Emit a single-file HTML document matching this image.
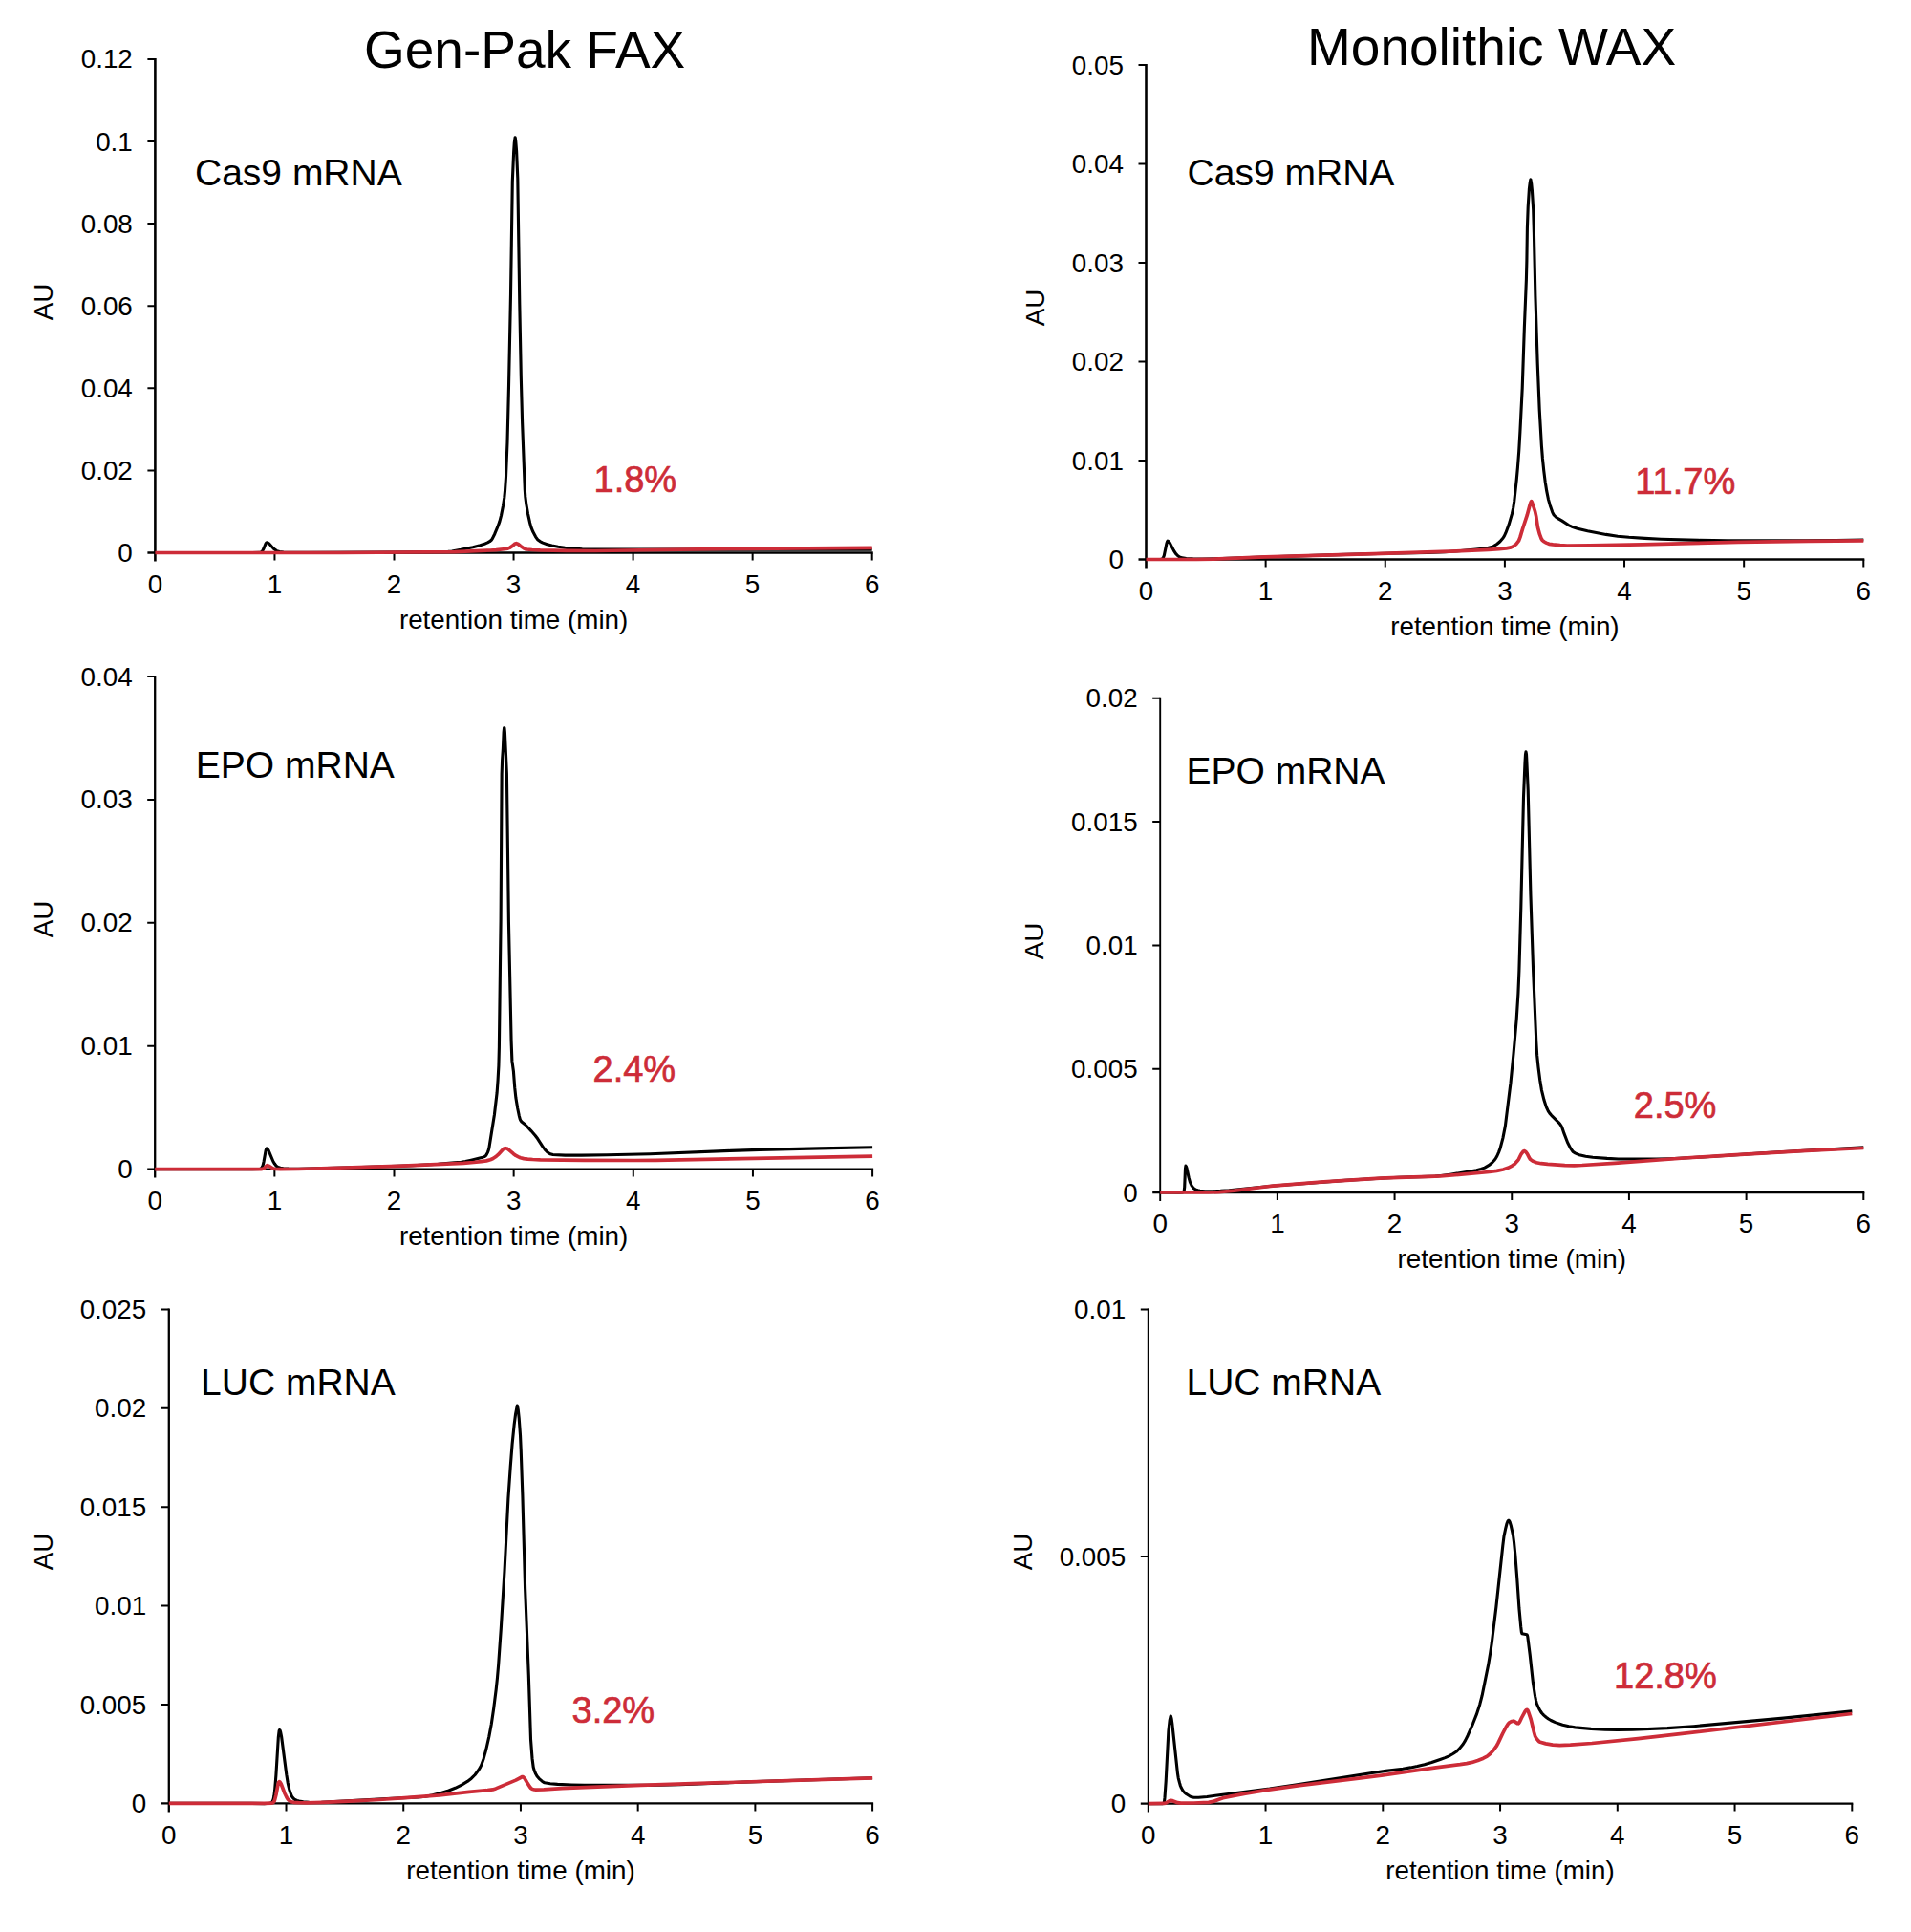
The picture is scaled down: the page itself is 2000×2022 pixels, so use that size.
<!DOCTYPE html>
<html><head><meta charset="utf-8"><title>mRNA AEX chromatograms</title>
<style>
html,body{margin:0;padding:0;background:#fff;}
body{width:2000px;height:2022px;position:relative;overflow:hidden;font-family:"Liberation Sans",sans-serif;}
svg{position:absolute;left:0;top:0;}
.t{position:absolute;white-space:nowrap;line-height:1;color:#000;}
.au{width:100px;text-align:center;transform:rotate(-90deg);transform-origin:50% 50%;}
</style></head><body>
<svg width="2000" height="2022" viewBox="0 0 2000 2022">
<path d="M162.40,60.90 V587.50" stroke="#000" stroke-width="2.6" fill="none"/>
<path d="M154.40,578.50 H913.70" stroke="#000" stroke-width="2.4" fill="none"/>
<path d="M154.40,492.40 H162.40 M154.40,406.30 H162.40 M154.40,320.20 H162.40 M154.40,234.10 H162.40 M154.40,148.00 H162.40 M154.40,61.90 H162.40 M287.45,578.50 V586.50 M412.50,578.50 V586.50 M537.55,578.50 V586.50 M662.60,578.50 V586.50 M787.65,578.50 V586.50 M912.70,578.50 V586.50" stroke="#000" stroke-width="2.0" fill="none"/>
<path d="M162.4,578.5 264.1,578.5 271.4,578.4 273.3,577.9 274.7,576.6 275.9,574.3 278.0,569.1 278.5,568.2 279.2,567.7 280.2,568.0 281.5,568.8 286.4,574.2 289.2,576.3 290.8,577.1 292.5,577.6 296.8,578.1 322.5,578.3 395.0,578.1 447.3,577.8 469.0,577.4 473.0,577.0 482.3,575.3 494.8,572.7 502.5,570.7 506.3,569.6 510.3,567.9 512.5,566.7 514.5,565.0 515.5,563.4 517.8,558.7 520.5,552.2 522.8,546.1 524.5,539.6 526.5,529.5 527.8,521.0 528.5,513.8 529.5,499.0 531.0,463.3 532.5,404.1 534.5,308.3 536.3,190.1 537.6,159.7 538.3,149.2 539.1,143.7 539.3,144.3 539.8,148.1 540.6,158.0 541.8,186.5 543.8,318.3 545.3,394.3 546.6,441.9 549.3,512.7 549.8,519.7 550.8,527.8 552.6,538.1 554.6,547.2 555.8,551.6 557.8,556.6 560.6,561.8 562.6,564.7 565.1,566.6 568.1,568.1 572.6,569.7 577.6,571.0 584.1,572.2 591.3,573.2 599.8,574.1 609.3,574.7 658.8,575.1 912.7,575.1" stroke="#000000" stroke-width="3.1" fill="none" stroke-linejoin="round" stroke-linecap="butt"/>
<path d="M162.4,578.5 356.7,578.5 475.8,577.6 513.0,576.0 519.3,575.6 529.3,574.5 531.5,574.1 533.3,573.4 536.3,571.4 538.6,569.3 540.3,568.6 542.3,569.5 544.8,571.5 548.1,573.8 549.8,574.6 551.3,575.0 556.8,575.5 565.3,575.9 592.6,576.4 622.8,576.5 776.1,574.3 912.7,573.3" stroke="#cd2c38" stroke-width="3.7" fill="none" stroke-linejoin="round" stroke-linecap="butt"/>
<path d="M1199.50,67.00 V594.50" stroke="#000" stroke-width="2.6" fill="none"/>
<path d="M1191.50,585.50 H1951.30" stroke="#000" stroke-width="2.4" fill="none"/>
<path d="M1191.50,482.00 H1199.50 M1191.50,378.50 H1199.50 M1191.50,275.00 H1199.50 M1191.50,171.50 H1199.50 M1191.50,68.00 H1199.50 M1324.63,585.50 V593.50 M1449.77,585.50 V593.50 M1574.90,585.50 V593.50 M1700.03,585.50 V593.50 M1825.17,585.50 V593.50 M1950.30,585.50 V593.50" stroke="#000" stroke-width="2.0" fill="none"/>
<path d="M1199.5,585.5 1214.3,585.5 1215.6,585.3 1216.5,584.9 1217.4,583.7 1218.3,581.5 1220.9,568.9 1221.5,566.9 1222.0,566.2 1223.1,566.7 1224.3,568.2 1228.4,576.1 1230.5,579.4 1232.5,581.5 1234.5,582.9 1237.4,583.9 1241.5,584.5 1248.4,584.9 1258.7,585.0 1278.8,584.6 1321.9,583.0 1400.2,580.6 1450.5,579.3 1493.3,578.4 1512.6,577.7 1526.1,576.7 1544.6,575.1 1551.4,574.4 1556.9,573.5 1560.9,572.6 1563.6,571.4 1566.6,569.5 1569.9,566.7 1573.1,563.0 1574.4,560.9 1575.9,557.7 1579.2,548.9 1582.4,537.9 1583.7,531.8 1584.7,525.0 1587.2,502.5 1588.4,489.4 1589.7,472.5 1590.9,451.9 1593.2,406.4 1595.4,341.7 1597.4,292.8 1597.9,272.9 1598.4,239.0 1599.2,216.6 1600.4,197.8 1601.2,191.3 1601.7,188.4 1601.9,187.9 1602.7,192.2 1603.4,199.1 1604.7,219.6 1605.4,243.6 1606.9,309.8 1609.2,380.4 1611.2,428.9 1613.4,466.8 1614.4,479.7 1615.7,492.3 1617.2,504.4 1618.7,513.9 1620.4,522.3 1622.2,528.7 1624.7,536.1 1625.7,538.2 1626.7,539.5 1628.2,541.0 1629.7,542.1 1634.5,544.9 1642.0,549.8 1645.0,551.2 1651.0,553.2 1661.5,555.8 1680.8,559.4 1693.0,561.2 1704.8,562.3 1721.3,563.4 1738.3,564.2 1777.9,565.4 1808.1,565.9 1889.7,565.9 1921.5,565.6 1950.3,565.0" stroke="#000000" stroke-width="3.1" fill="none" stroke-linejoin="round" stroke-linecap="butt"/>
<path d="M1199.5,585.5 1252.1,585.5 1269.8,585.2 1323.9,582.9 1437.8,579.7 1516.8,577.2 1557.9,575.4 1568.9,574.7 1576.4,573.9 1581.4,572.9 1583.9,571.8 1586.7,569.6 1589.4,566.2 1590.9,562.4 1593.7,553.0 1598.2,539.4 1601.4,527.6 1602.2,525.5 1602.7,524.6 1603.2,525.5 1604.9,530.1 1606.7,535.8 1607.7,540.4 1609.4,551.7 1611.4,559.2 1613.2,563.9 1614.4,565.6 1616.2,567.0 1618.2,568.1 1621.2,569.3 1625.2,569.9 1632.7,570.6 1640.2,571.0 1664.0,570.9 1718.8,569.9 1819.2,567.3 1892.5,566.3 1950.3,565.8" stroke="#cd2c38" stroke-width="3.7" fill="none" stroke-linejoin="round" stroke-linecap="butt"/>
<path d="M162.20,707.10 V1232.60" stroke="#000" stroke-width="2.3" fill="none"/>
<path d="M154.20,1223.60 H914.10" stroke="#000" stroke-width="2.4" fill="none"/>
<path d="M154.20,1094.72 H162.20 M154.20,965.85 H162.20 M154.20,836.98 H162.20 M154.20,708.10 H162.20 M287.35,1223.60 V1231.60 M412.50,1223.60 V1231.60 M537.65,1223.60 V1231.60 M662.80,1223.60 V1231.60 M787.95,1223.60 V1231.60 M913.10,1223.60 V1231.60" stroke="#000" stroke-width="2.0" fill="none"/>
<path d="M162.2,1223.6 264.1,1223.6 272.1,1223.4 273.1,1223.0 273.8,1222.4 274.4,1221.4 275.1,1219.8 276.1,1215.6 278.1,1204.3 278.6,1202.6 279.1,1201.9 280.0,1202.4 280.9,1203.6 285.9,1215.5 287.5,1218.1 289.2,1220.2 291.0,1221.5 293.4,1222.3 296.6,1222.8 302.0,1223.1 312.9,1223.2 323.4,1223.1 378.5,1221.5 432.0,1219.7 458.6,1218.3 475.6,1216.9 482.6,1216.2 487.1,1215.5 493.1,1214.2 504.1,1211.6 506.9,1210.6 508.1,1209.9 508.6,1209.4 509.4,1208.2 510.4,1206.1 511.4,1203.4 511.9,1201.3 517.4,1166.7 520.1,1143.8 521.1,1130.2 521.9,1115.3 522.4,1095.9 524.1,962.5 525.1,809.9 525.6,795.6 526.4,783.5 527.1,766.5 527.6,761.7 527.9,761.7 528.1,763.3 528.4,766.5 530.4,809.9 532.4,964.2 535.1,1089.8 535.9,1110.4 537.4,1121.2 538.7,1138.2 539.9,1149.1 541.7,1160.0 543.2,1167.3 544.2,1171.2 544.7,1172.3 545.9,1174.0 549.7,1177.0 551.2,1178.5 555.9,1183.6 560.2,1188.5 562.7,1191.8 567.7,1199.7 570.2,1203.1 572.9,1205.8 574.7,1207.2 575.9,1207.8 578.7,1208.5 591.5,1209.1 608.5,1209.1 635.0,1208.8 680.1,1207.7 764.4,1204.4 795.0,1203.4 857.5,1201.9 913.1,1200.8" stroke="#000000" stroke-width="3.1" fill="none" stroke-linejoin="round" stroke-linecap="butt"/>
<path d="M162.2,1223.6 273.0,1223.6 274.6,1223.4 275.8,1222.9 276.8,1222.2 278.8,1220.2 279.8,1219.7 281.5,1220.2 285.4,1222.8 288.0,1223.5 293.3,1223.6 311.9,1223.5 416.0,1220.3 456.1,1218.6 485.1,1217.3 495.7,1216.5 503.6,1215.7 509.1,1214.9 513.2,1213.7 516.0,1212.5 518.6,1210.8 521.4,1208.4 526.4,1202.9 527.6,1202.1 529.0,1201.7 530.4,1202.0 531.9,1202.8 537.2,1207.4 539.9,1209.4 542.2,1210.6 544.7,1211.7 548.2,1212.6 552.2,1213.1 557.5,1213.5 565.4,1213.8 612.0,1214.3 664.1,1214.5 686.3,1214.3 913.1,1210.2" stroke="#cd2c38" stroke-width="3.7" fill="none" stroke-linejoin="round" stroke-linecap="butt"/>
<path d="M1214.20,729.80 V1257.00" stroke="#000" stroke-width="1.9" fill="none"/>
<path d="M1206.20,1248.00 H1951.30" stroke="#000" stroke-width="2.4" fill="none"/>
<path d="M1206.20,1118.70 H1214.20 M1206.20,989.40 H1214.20 M1206.20,860.10 H1214.20 M1206.20,730.80 H1214.20 M1336.88,1248.00 V1256.00 M1459.57,1248.00 V1256.00 M1582.25,1248.00 V1256.00 M1704.93,1248.00 V1256.00 M1827.62,1248.00 V1256.00 M1950.30,1248.00 V1256.00" stroke="#000" stroke-width="2.0" fill="none"/>
<path d="M1214.2,1248.0 1234.1,1248.2 1237.4,1248.0 1238.7,1247.6 1239.2,1246.4 1239.7,1242.6 1240.5,1222.9 1240.9,1220.1 1241.3,1220.6 1241.9,1222.2 1244.1,1232.4 1245.4,1237.2 1247.1,1240.9 1249.0,1243.4 1250.3,1244.3 1251.8,1245.1 1253.6,1245.7 1255.7,1246.2 1261.2,1246.7 1269.7,1246.7 1277.3,1246.4 1286.3,1245.8 1333.7,1241.0 1407.8,1235.4 1448.0,1233.0 1464.0,1232.3 1494.9,1231.4 1502.0,1231.1 1508.1,1230.5 1517.7,1229.2 1539.6,1225.8 1545.2,1224.7 1549.9,1223.5 1553.8,1222.1 1558.0,1219.7 1561.1,1217.3 1563.8,1214.5 1565.3,1212.6 1566.8,1210.0 1568.5,1206.1 1570.0,1202.1 1572.9,1191.1 1575.4,1178.4 1581.0,1133.2 1584.0,1102.8 1587.2,1066.6 1588.9,1039.8 1589.9,1016.0 1591.8,949.6 1594.5,834.2 1596.0,797.9 1596.5,789.6 1597.0,786.7 1597.5,789.6 1597.7,793.2 1599.2,826.8 1601.9,936.0 1604.6,1015.7 1607.8,1090.2 1608.7,1104.7 1610.0,1117.0 1611.7,1130.3 1613.4,1140.8 1615.9,1151.1 1618.3,1158.5 1620.3,1162.8 1622.0,1165.4 1623.7,1167.3 1631.3,1174.8 1632.8,1176.6 1634.0,1178.4 1634.8,1180.0 1637.0,1186.4 1640.6,1195.8 1643.6,1201.6 1645.6,1204.6 1646.5,1205.6 1648.5,1206.8 1650.7,1207.9 1652.9,1208.7 1659.5,1210.2 1666.9,1211.2 1681.9,1212.4 1693.6,1213.0 1733.4,1213.1 1747.6,1212.7 1776.3,1211.3 1844.5,1206.9 1950.3,1200.9" stroke="#000000" stroke-width="3.1" fill="none" stroke-linejoin="round" stroke-linecap="butt"/>
<path d="M1214.2,1248.0 1264.5,1248.0 1275.8,1247.6 1291.7,1246.1 1320.7,1242.5 1332.0,1241.2 1385.5,1236.9 1416.6,1234.8 1444.1,1233.2 1463.7,1232.3 1495.6,1231.4 1507.7,1230.8 1526.6,1229.4 1558.7,1226.5 1566.5,1225.4 1573.2,1224.0 1578.1,1222.3 1582.5,1220.1 1585.2,1218.2 1587.6,1215.6 1589.4,1213.3 1592.1,1207.8 1594.0,1205.3 1594.8,1204.7 1595.3,1204.6 1595.7,1204.7 1596.5,1205.2 1598.4,1207.7 1600.7,1212.1 1601.4,1213.2 1604.6,1215.4 1608.0,1216.8 1612.9,1217.7 1619.8,1218.4 1637.7,1219.6 1647.5,1219.8 1655.9,1219.5 1689.7,1217.4 1762.8,1212.0 1812.9,1208.8 1886.0,1204.7 1950.3,1201.5" stroke="#cd2c38" stroke-width="3.7" fill="none" stroke-linejoin="round" stroke-linecap="butt"/>
<path d="M176.80,1369.40 V1896.40" stroke="#000" stroke-width="2.3" fill="none"/>
<path d="M168.80,1887.40 H914.10" stroke="#000" stroke-width="2.4" fill="none"/>
<path d="M168.80,1784.00 H176.80 M168.80,1680.60 H176.80 M168.80,1577.20 H176.80 M168.80,1473.80 H176.80 M168.80,1370.40 H176.80 M299.52,1887.40 V1895.40 M422.23,1887.40 V1895.40 M544.95,1887.40 V1895.40 M667.67,1887.40 V1895.40 M790.38,1887.40 V1895.40 M913.10,1887.40 V1895.40" stroke="#000" stroke-width="2.0" fill="none"/>
<path d="M176.8,1887.4 263.3,1887.4 276.6,1887.6 281.8,1887.3 283.2,1887.1 284.1,1886.6 285.3,1885.3 286.2,1882.9 286.9,1879.4 287.6,1873.8 288.9,1857.8 291.3,1818.5 292.1,1811.7 292.4,1810.6 292.6,1810.5 293.1,1811.1 293.6,1812.5 294.6,1817.5 299.8,1857.2 301.2,1866.1 302.8,1872.9 304.6,1878.3 305.5,1880.1 306.6,1881.6 307.9,1882.9 309.2,1883.8 310.9,1884.5 313.0,1885.1 317.5,1885.8 323.6,1886.3 329.5,1886.5 336.3,1886.4 404.8,1882.5 437.0,1881.0 445.3,1880.2 452.7,1878.8 461.5,1876.5 469.6,1874.0 476.5,1871.3 483.1,1868.1 489.2,1864.4 493.4,1861.2 497.1,1857.5 501.0,1852.3 502.7,1849.4 503.7,1847.4 506.2,1840.4 508.9,1830.5 511.8,1817.6 514.3,1804.2 516.7,1787.9 519.2,1768.2 520.4,1756.9 521.6,1743.1 524.3,1704.7 528.0,1644.3 531.9,1568.5 534.2,1535.3 536.1,1511.2 538.1,1491.3 539.6,1479.8 541.3,1471.1 541.5,1471.4 542.3,1475.6 543.2,1484.1 544.5,1501.8 545.2,1517.1 546.9,1565.4 549.6,1662.4 553.3,1753.3 555.5,1820.3 557.0,1840.2 558.2,1849.5 559.4,1853.6 560.7,1856.5 562.1,1859.0 564.3,1861.6 567.3,1864.2 568.8,1865.2 570.0,1865.7 575.9,1866.7 583.5,1867.4 598.2,1868.0 611.7,1868.3 670.1,1868.4 689.8,1868.2 711.6,1867.6 783.5,1864.9 913.1,1860.7" stroke="#000000" stroke-width="3.1" fill="none" stroke-linejoin="round" stroke-linecap="butt"/>
<path d="M176.8,1887.4 276.6,1887.4 284.4,1887.2 285.6,1886.8 286.4,1886.1 287.1,1885.0 287.7,1883.4 288.9,1878.6 291.1,1867.0 291.7,1865.2 292.2,1864.7 293.1,1865.2 294.2,1867.0 298.0,1877.0 299.8,1880.7 301.2,1883.1 302.9,1884.7 304.9,1885.8 307.7,1886.4 312.3,1886.7 320.6,1886.8 337.8,1886.3 370.0,1884.9 396.5,1883.5 423.7,1881.7 460.0,1878.8 491.0,1875.3 510.3,1873.7 515.7,1872.9 518.9,1871.9 539.8,1863.1 546.7,1859.5 547.6,1859.8 548.9,1861.0 551.6,1865.5 554.5,1870.0 555.7,1871.5 556.5,1872.1 557.5,1872.5 559.2,1873.0 560.7,1873.1 569.2,1872.9 588.4,1871.6 606.1,1870.8 670.4,1868.3 913.1,1860.9" stroke="#cd2c38" stroke-width="3.7" fill="none" stroke-linejoin="round" stroke-linecap="butt"/>
<path d="M1201.80,1369.40 V1896.60" stroke="#000" stroke-width="2.0" fill="none"/>
<path d="M1193.80,1887.60 H1939.30" stroke="#000" stroke-width="2.4" fill="none"/>
<path d="M1193.80,1629.00 H1201.80 M1193.80,1370.40 H1201.80 M1324.55,1887.60 V1895.60 M1447.30,1887.60 V1895.60 M1570.05,1887.60 V1895.60 M1692.80,1887.60 V1895.60 M1815.55,1887.60 V1895.60 M1938.30,1887.60 V1895.60" stroke="#000" stroke-width="2.0" fill="none"/>
<path d="M1201.8,1887.6 1216.8,1887.6 1217.5,1887.2 1218.2,1886.6 1218.5,1885.7 1219.0,1881.2 1220.2,1864.0 1222.9,1811.6 1224.1,1800.6 1224.9,1797.0 1225.1,1796.3 1225.4,1796.1 1226.1,1798.6 1226.8,1803.7 1232.5,1856.3 1233.2,1860.8 1234.5,1865.9 1235.4,1869.0 1236.4,1871.3 1238.1,1874.2 1239.9,1876.3 1241.8,1877.8 1245.0,1879.8 1247.2,1880.8 1249.4,1881.3 1254.3,1881.3 1263.2,1880.5 1275.9,1878.7 1328.7,1872.1 1359.2,1867.6 1434.3,1855.7 1450.5,1853.4 1468.2,1851.2 1476.3,1849.9 1483.4,1848.5 1490.8,1846.7 1498.4,1844.5 1507.2,1841.5 1512.4,1839.6 1516.5,1837.8 1520.7,1835.5 1524.1,1833.3 1527.6,1829.9 1531.3,1825.2 1533.5,1821.6 1536.2,1816.2 1541.6,1803.8 1545.3,1794.4 1548.7,1783.9 1551.1,1774.7 1557.8,1741.6 1559.7,1730.1 1561.2,1720.1 1565.9,1681.7 1572.8,1617.7 1574.0,1607.9 1575.5,1600.7 1576.9,1594.8 1577.9,1592.2 1578.4,1591.5 1578.9,1591.2 1579.4,1591.5 1580.1,1592.7 1581.3,1596.6 1583.6,1607.1 1584.5,1613.9 1585.8,1626.8 1587.7,1651.2 1589.9,1683.0 1591.7,1702.5 1592.4,1708.3 1592.9,1709.7 1598.0,1710.7 1598.3,1711.1 1598.8,1712.9 1601.2,1731.7 1604.4,1761.1 1606.6,1775.2 1607.6,1780.1 1608.3,1782.8 1610.8,1788.5 1612.3,1791.0 1613.7,1793.0 1615.7,1795.1 1618.2,1797.2 1620.6,1799.0 1623.1,1800.5 1627.7,1802.6 1635.4,1805.2 1642.0,1806.8 1648.4,1807.9 1665.1,1809.4 1679.8,1810.3 1692.6,1810.5 1708.3,1810.3 1745.1,1808.6 1772.3,1806.7 1866.6,1798.1 1938.3,1790.9" stroke="#000000" stroke-width="3.1" fill="none" stroke-linejoin="round" stroke-linecap="butt"/>
<path d="M1201.8,1887.6 1218.6,1887.4 1220.6,1886.8 1223.8,1884.8 1225.1,1884.4 1227.2,1884.7 1232.5,1886.7 1235.9,1887.2 1249.4,1887.0 1264.9,1886.4 1269.6,1885.4 1279.9,1881.8 1286.3,1880.4 1303.4,1877.1 1326.0,1873.4 1360.1,1868.7 1422.0,1861.2 1445.8,1858.1 1502.8,1849.8 1528.1,1846.7 1534.9,1845.6 1540.6,1844.4 1546.7,1842.5 1552.4,1840.2 1556.3,1838.1 1559.5,1835.5 1563.2,1831.5 1566.4,1827.2 1568.1,1823.9 1572.8,1814.0 1576.7,1806.7 1578.6,1803.8 1579.6,1802.9 1581.1,1802.0 1582.3,1801.5 1583.6,1801.2 1585.0,1801.6 1588.0,1803.6 1589.0,1803.8 1589.4,1803.6 1590.4,1802.2 1592.4,1798.0 1596.1,1791.1 1597.1,1789.8 1598.0,1789.3 1598.8,1789.9 1599.5,1791.3 1602.2,1799.4 1605.4,1812.8 1606.6,1817.0 1607.6,1818.9 1609.6,1821.4 1610.8,1822.6 1612.0,1823.3 1617.7,1824.9 1625.0,1826.1 1632.4,1826.6 1643.5,1826.2 1666.0,1824.5 1714.4,1819.7 1758.3,1814.7 1938.3,1793.5" stroke="#cd2c38" stroke-width="3.7" fill="none" stroke-linejoin="round" stroke-linecap="butt"/>
</svg>
<div class="t" style="left:381.0px;top:24.7px;font-size:55px;color:#000;">Gen-Pak FAX</div>
<div class="t" style="left:1368.0px;top:22.3px;font-size:55px;color:#000;">Monolithic WAX</div>
<div class="t" style="right:1861.2px;top:565.0px;font-size:27.8px;color:#000;">0</div>
<div class="t" style="right:1861.2px;top:478.9px;font-size:27.8px;color:#000;">0.02</div>
<div class="t" style="right:1861.2px;top:392.8px;font-size:27.8px;color:#000;">0.04</div>
<div class="t" style="right:1861.2px;top:306.7px;font-size:27.8px;color:#000;">0.06</div>
<div class="t" style="right:1861.2px;top:220.6px;font-size:27.8px;color:#000;">0.08</div>
<div class="t" style="right:1861.2px;top:134.5px;font-size:27.8px;color:#000;">0.1</div>
<div class="t" style="right:1861.2px;top:48.4px;font-size:27.8px;color:#000;">0.12</div>
<div class="t" style="left:-237.6px;width:800px;text-align:center;top:597.8px;font-size:27.8px;color:#000;">0</div>
<div class="t" style="left:-112.5px;width:800px;text-align:center;top:597.8px;font-size:27.8px;color:#000;">1</div>
<div class="t" style="left:12.5px;width:800px;text-align:center;top:597.8px;font-size:27.8px;color:#000;">2</div>
<div class="t" style="left:137.6px;width:800px;text-align:center;top:597.8px;font-size:27.8px;color:#000;">3</div>
<div class="t" style="left:262.6px;width:800px;text-align:center;top:597.8px;font-size:27.8px;color:#000;">4</div>
<div class="t" style="left:387.6px;width:800px;text-align:center;top:597.8px;font-size:27.8px;color:#000;">5</div>
<div class="t" style="left:512.7px;width:800px;text-align:center;top:597.8px;font-size:27.8px;color:#000;">6</div>
<div class="t" style="left:137.6px;width:800px;text-align:center;top:634.8px;font-size:27.8px;color:#000;">retention time (min)</div>
<div class="t au" style="left:-3.7px;top:301.6px;font-size:27.8px;">AU</div>
<div class="t" style="left:204.0px;top:160.8px;font-size:39px;color:#000;">Cas9 mRNA</div>
<div class="t" style="left:621.5px;top:482.9px;font-size:38px;color:#cd2c38;-webkit-text-stroke:0.7px #cd2c38;">1.8%</div>
<div class="t" style="right:824.1px;top:572.0px;font-size:27.8px;color:#000;">0</div>
<div class="t" style="right:824.1px;top:468.5px;font-size:27.8px;color:#000;">0.01</div>
<div class="t" style="right:824.1px;top:365.0px;font-size:27.8px;color:#000;">0.02</div>
<div class="t" style="right:824.1px;top:261.5px;font-size:27.8px;color:#000;">0.03</div>
<div class="t" style="right:824.1px;top:158.0px;font-size:27.8px;color:#000;">0.04</div>
<div class="t" style="right:824.1px;top:54.5px;font-size:27.8px;color:#000;">0.05</div>
<div class="t" style="left:799.5px;width:800px;text-align:center;top:604.8px;font-size:27.8px;color:#000;">0</div>
<div class="t" style="left:924.6px;width:800px;text-align:center;top:604.8px;font-size:27.8px;color:#000;">1</div>
<div class="t" style="left:1049.8px;width:800px;text-align:center;top:604.8px;font-size:27.8px;color:#000;">2</div>
<div class="t" style="left:1174.9px;width:800px;text-align:center;top:604.8px;font-size:27.8px;color:#000;">3</div>
<div class="t" style="left:1300.0px;width:800px;text-align:center;top:604.8px;font-size:27.8px;color:#000;">4</div>
<div class="t" style="left:1425.2px;width:800px;text-align:center;top:604.8px;font-size:27.8px;color:#000;">5</div>
<div class="t" style="left:1550.3px;width:800px;text-align:center;top:604.8px;font-size:27.8px;color:#000;">6</div>
<div class="t" style="left:1174.9px;width:800px;text-align:center;top:641.8px;font-size:27.8px;color:#000;">retention time (min)</div>
<div class="t au" style="left:1033.9px;top:307.6px;font-size:27.8px;">AU</div>
<div class="t" style="left:1242.6px;top:161.1px;font-size:39px;color:#000;">Cas9 mRNA</div>
<div class="t" style="left:1711.3px;top:485.2px;font-size:38px;color:#cd2c38;-webkit-text-stroke:0.7px #cd2c38;">11.7%</div>
<div class="t" style="right:1861.4px;top:1210.1px;font-size:27.8px;color:#000;">0</div>
<div class="t" style="right:1861.4px;top:1081.2px;font-size:27.8px;color:#000;">0.01</div>
<div class="t" style="right:1861.4px;top:952.3px;font-size:27.8px;color:#000;">0.02</div>
<div class="t" style="right:1861.4px;top:823.4px;font-size:27.8px;color:#000;">0.03</div>
<div class="t" style="right:1861.4px;top:694.6px;font-size:27.8px;color:#000;">0.04</div>
<div class="t" style="left:-237.8px;width:800px;text-align:center;top:1242.9px;font-size:27.8px;color:#000;">0</div>
<div class="t" style="left:-112.6px;width:800px;text-align:center;top:1242.9px;font-size:27.8px;color:#000;">1</div>
<div class="t" style="left:12.5px;width:800px;text-align:center;top:1242.9px;font-size:27.8px;color:#000;">2</div>
<div class="t" style="left:137.7px;width:800px;text-align:center;top:1242.9px;font-size:27.8px;color:#000;">3</div>
<div class="t" style="left:262.8px;width:800px;text-align:center;top:1242.9px;font-size:27.8px;color:#000;">4</div>
<div class="t" style="left:388.0px;width:800px;text-align:center;top:1242.9px;font-size:27.8px;color:#000;">5</div>
<div class="t" style="left:513.1px;width:800px;text-align:center;top:1242.9px;font-size:27.8px;color:#000;">6</div>
<div class="t" style="left:137.6px;width:800px;text-align:center;top:1279.9px;font-size:27.8px;color:#000;">retention time (min)</div>
<div class="t au" style="left:-3.7px;top:948.1px;font-size:27.8px;">AU</div>
<div class="t" style="left:204.8px;top:780.6px;font-size:39px;color:#000;">EPO mRNA</div>
<div class="t" style="left:620.5px;top:1100.0px;font-size:38px;color:#cd2c38;-webkit-text-stroke:0.7px #cd2c38;">2.4%</div>
<div class="t" style="right:809.4px;top:1234.5px;font-size:27.8px;color:#000;">0</div>
<div class="t" style="right:809.4px;top:1105.2px;font-size:27.8px;color:#000;">0.005</div>
<div class="t" style="right:809.4px;top:975.9px;font-size:27.8px;color:#000;">0.01</div>
<div class="t" style="right:809.4px;top:846.6px;font-size:27.8px;color:#000;">0.015</div>
<div class="t" style="right:809.4px;top:717.3px;font-size:27.8px;color:#000;">0.02</div>
<div class="t" style="left:814.2px;width:800px;text-align:center;top:1267.3px;font-size:27.8px;color:#000;">0</div>
<div class="t" style="left:936.9px;width:800px;text-align:center;top:1267.3px;font-size:27.8px;color:#000;">1</div>
<div class="t" style="left:1059.6px;width:800px;text-align:center;top:1267.3px;font-size:27.8px;color:#000;">2</div>
<div class="t" style="left:1182.2px;width:800px;text-align:center;top:1267.3px;font-size:27.8px;color:#000;">3</div>
<div class="t" style="left:1304.9px;width:800px;text-align:center;top:1267.3px;font-size:27.8px;color:#000;">4</div>
<div class="t" style="left:1427.6px;width:800px;text-align:center;top:1267.3px;font-size:27.8px;color:#000;">5</div>
<div class="t" style="left:1550.3px;width:800px;text-align:center;top:1267.3px;font-size:27.8px;color:#000;">6</div>
<div class="t" style="left:1182.2px;width:800px;text-align:center;top:1304.3px;font-size:27.8px;color:#000;">retention time (min)</div>
<div class="t au" style="left:1032.9px;top:971.1px;font-size:27.8px;">AU</div>
<div class="t" style="left:1241.5px;top:787.3px;font-size:39px;color:#000;">EPO mRNA</div>
<div class="t" style="left:1709.8px;top:1138.2px;font-size:38px;color:#cd2c38;-webkit-text-stroke:0.7px #cd2c38;">2.5%</div>
<div class="t" style="right:1846.8px;top:1873.9px;font-size:27.8px;color:#000;">0</div>
<div class="t" style="right:1846.8px;top:1770.5px;font-size:27.8px;color:#000;">0.005</div>
<div class="t" style="right:1846.8px;top:1667.1px;font-size:27.8px;color:#000;">0.01</div>
<div class="t" style="right:1846.8px;top:1563.7px;font-size:27.8px;color:#000;">0.015</div>
<div class="t" style="right:1846.8px;top:1460.3px;font-size:27.8px;color:#000;">0.02</div>
<div class="t" style="right:1846.8px;top:1356.9px;font-size:27.8px;color:#000;">0.025</div>
<div class="t" style="left:-223.2px;width:800px;text-align:center;top:1906.7px;font-size:27.8px;color:#000;">0</div>
<div class="t" style="left:-100.5px;width:800px;text-align:center;top:1906.7px;font-size:27.8px;color:#000;">1</div>
<div class="t" style="left:22.2px;width:800px;text-align:center;top:1906.7px;font-size:27.8px;color:#000;">2</div>
<div class="t" style="left:145.0px;width:800px;text-align:center;top:1906.7px;font-size:27.8px;color:#000;">3</div>
<div class="t" style="left:267.7px;width:800px;text-align:center;top:1906.7px;font-size:27.8px;color:#000;">4</div>
<div class="t" style="left:390.4px;width:800px;text-align:center;top:1906.7px;font-size:27.8px;color:#000;">5</div>
<div class="t" style="left:513.1px;width:800px;text-align:center;top:1906.7px;font-size:27.8px;color:#000;">6</div>
<div class="t" style="left:145.0px;width:800px;text-align:center;top:1943.7px;font-size:27.8px;color:#000;">retention time (min)</div>
<div class="t au" style="left:-3.7px;top:1610.1px;font-size:27.8px;">AU</div>
<div class="t" style="left:210.1px;top:1427.1px;font-size:39px;color:#000;">LUC mRNA</div>
<div class="t" style="left:598.5px;top:1771.0px;font-size:38px;color:#cd2c38;-webkit-text-stroke:0.7px #cd2c38;">3.2%</div>
<div class="t" style="right:821.8px;top:1874.1px;font-size:27.8px;color:#000;">0</div>
<div class="t" style="right:821.8px;top:1615.5px;font-size:27.8px;color:#000;">0.005</div>
<div class="t" style="right:821.8px;top:1356.9px;font-size:27.8px;color:#000;">0.01</div>
<div class="t" style="left:801.8px;width:800px;text-align:center;top:1906.9px;font-size:27.8px;color:#000;">0</div>
<div class="t" style="left:924.5px;width:800px;text-align:center;top:1906.9px;font-size:27.8px;color:#000;">1</div>
<div class="t" style="left:1047.3px;width:800px;text-align:center;top:1906.9px;font-size:27.8px;color:#000;">2</div>
<div class="t" style="left:1170.0px;width:800px;text-align:center;top:1906.9px;font-size:27.8px;color:#000;">3</div>
<div class="t" style="left:1292.8px;width:800px;text-align:center;top:1906.9px;font-size:27.8px;color:#000;">4</div>
<div class="t" style="left:1415.5px;width:800px;text-align:center;top:1906.9px;font-size:27.8px;color:#000;">5</div>
<div class="t" style="left:1538.3px;width:800px;text-align:center;top:1906.9px;font-size:27.8px;color:#000;">6</div>
<div class="t" style="left:1170.0px;width:800px;text-align:center;top:1943.9px;font-size:27.8px;color:#000;">retention time (min)</div>
<div class="t au" style="left:1021.4px;top:1610.1px;font-size:27.8px;">AU</div>
<div class="t" style="left:1241.5px;top:1427.2px;font-size:39px;color:#000;">LUC mRNA</div>
<div class="t" style="left:1689.0px;top:1735.3px;font-size:38px;color:#cd2c38;-webkit-text-stroke:0.7px #cd2c38;">12.8%</div>
</body></html>
